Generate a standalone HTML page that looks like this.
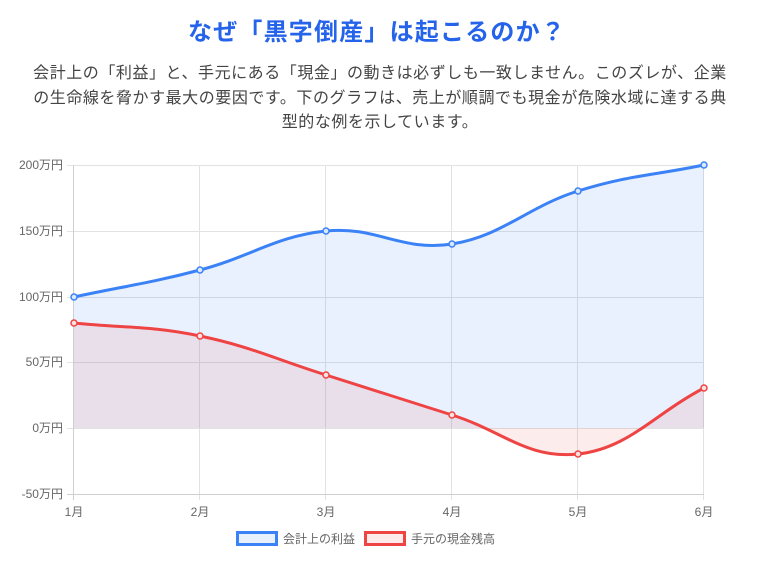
<!DOCTYPE html>
<html><head><meta charset="utf-8"><style>
body{margin:0;width:760px;height:568px;background:#fff;font-family:"Liberation Sans","Noto Sans CJK JP",sans-serif;overflow:hidden;position:relative}
.t{position:absolute;left:0;width:760px;text-align:center;white-space:nowrap}
h1{margin:0;font-size:24px;font-weight:bold;color:#2563eb;letter-spacing:1.2px}
.p{font-size:16px;color:#444;letter-spacing:0.55px}
</style></head><body>
<div class="t" style="top:12px;left:-3px"><h1>なぜ「黒字倒産」は起こるのか？</h1></div>
<div class="t p" style="top:59px">会計上の「利益」と、手元にある「現金」の動きは必ずしも一致しません。このズレが、企業</div>
<div class="t p" style="top:84px">の生命線を脅かす最大の要因です。下のグラフは、売上が順調でも現金が危険水域に達する典</div>
<div class="t p" style="top:108px">型的な例を示しています。</div>
<svg width="760" height="568" style="position:absolute;left:0;top:0" font-family="Liberation Sans, Noto Sans CJK JP, sans-serif">
<g stroke="#e2e2e2" stroke-width="1">
<line x1="67" y1="165.5" x2="704" y2="165.5"/><line x1="67" y1="231.5" x2="704" y2="231.5"/>
<line x1="67" y1="297.5" x2="704" y2="297.5"/><line x1="67" y1="362.5" x2="704" y2="362.5"/>
<line x1="67" y1="428.5" x2="704" y2="428.5"/>
<line x1="199.5" y1="165" x2="199.5" y2="500"/><line x1="325.5" y1="165" x2="325.5" y2="500"/>
<line x1="451.5" y1="165" x2="451.5" y2="500"/><line x1="577.5" y1="165" x2="577.5" y2="500"/><line x1="703.5" y1="165" x2="703.5" y2="500"/>
</g>
<line x1="67" y1="494.5" x2="704" y2="494.5" stroke="#cfcfcf"/>
<line x1="73.5" y1="165" x2="73.5" y2="500" stroke="#cfcfcf"/>
<path d="M74,297 C124.4,286.2 149.6,283.2 200,270 C250.4,256.8 275.6,236.2 326,231 C376.4,225.8 401.6,252 452,244 C502.4,236 527.6,206.8 578,191 C628.4,175.2 653.6,175.4 704,165 L704,428 L74,428Z" fill="rgba(59,130,246,0.11)"/>
<path d="M74,323 C124.4,328.2 149.6,325.6 200,336 C250.4,346.4 275.6,359.2 326,375 C376.4,390.8 401.6,399.2 452,415 C502.4,430.8 527.6,459.4 578,454 C628.4,448.6 653.6,414.4 704,388 L704,428 L74,428Z" fill="rgba(239,68,68,0.1)"/>
<path d="M74,297 C124.4,286.2 149.6,283.2 200,270 C250.4,256.8 275.6,236.2 326,231 C376.4,225.8 401.6,252 452,244 C502.4,236 527.6,206.8 578,191 C628.4,175.2 653.6,175.4 704,165" fill="none" stroke="#3b82f6" stroke-width="3"/>
<path d="M74,323 C124.4,328.2 149.6,325.6 200,336 C250.4,346.4 275.6,359.2 326,375 C376.4,390.8 401.6,399.2 452,415 C502.4,430.8 527.6,459.4 578,454 C628.4,448.6 653.6,414.4 704,388" fill="none" stroke="#ef4444" stroke-width="3"/>
<g fill="#dbe8fd" stroke="#3b82f6" stroke-width="1.5">
<circle cx="74" cy="297" r="3"/><circle cx="200" cy="270" r="3"/><circle cx="326" cy="231" r="3"/><circle cx="452" cy="244" r="3"/><circle cx="578" cy="191" r="3"/><circle cx="704" cy="165" r="3"/></g>
<g fill="#fde2e2" stroke="#ef4444" stroke-width="1.5">
<circle cx="74" cy="323" r="3"/><circle cx="200" cy="336" r="3"/><circle cx="326" cy="375" r="3"/><circle cx="452" cy="415" r="3"/><circle cx="578" cy="454" r="3"/><circle cx="704" cy="388" r="3"/></g>
<g font-size="12" fill="#666" text-anchor="end">
<text x="63" y="169">200万円</text><text x="63" y="235">150万円</text><text x="63" y="301">100万円</text>
<text x="63" y="366">50万円</text><text x="63" y="432">0万円</text><text x="63" y="498">-50万円</text></g>
<g font-size="12" fill="#666" text-anchor="middle">
<text x="74" y="516">1月</text><text x="200" y="516">2月</text><text x="326" y="516">3月</text>
<text x="452" y="516">4月</text><text x="578" y="516">5月</text><text x="704" y="516">6月</text></g>
<rect x="237.5" y="532.5" width="39" height="12" fill="#e8f0fd" stroke="#3b82f6" stroke-width="3"/>
<text x="283" y="543" font-size="12" fill="#666">会計上の利益</text>
<rect x="365.5" y="532.5" width="39" height="12" fill="#fdeaea" stroke="#ef4444" stroke-width="3"/>
<text x="411" y="543" font-size="12" fill="#666">手元の現金残高</text>
</svg>
</body></html>
